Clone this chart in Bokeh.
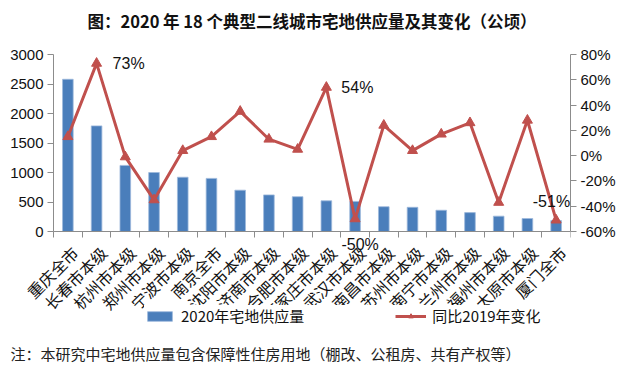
import math
from bokeh.plotting import figure
from bokeh.models import (Range1d, LinearAxis, FixedTicker, PrintfTickFormatter,
                          Label, Legend, LegendItem, ColumnDataSource)
from bokeh.core.properties import value
from bokeh.embed import file_html
from bokeh.resources import INLINE

cities = ["重庆全市", "长春市本级", "杭州市本级", "郑州市本级", "宁波市本级", "南京全市",
          "沈阳市本级", "济南市本级", "合肥市本级", "石家庄市本级", "武汉市本级", "南昌市本级",
          "苏州市本级", "南宁市本级", "兰州市本级", "福州市本级", "太原市本级", "厦门全市"]
supply = [2580, 1790, 1120, 1000, 920, 900, 700, 620, 590, 520, 510, 420, 410, 360, 320, 260, 220, 185]
change = [15, 73, -1, -35, 4, 15, 35, 13, 5, 54, -50, 24, 4, 17, 26, -37, 28, -51]
left_ticks = [0, 500, 1000, 1500, 2000, 2500, 3000]
right_ticks = [-60, -40, -20, 0, 20, 40, 60, 80]
title_text = "图：2020 年 18 个典型二线城市宅地供应量及其变化（公顷）"
note_text = "注：本研究中宅地供应量包含保障性住房用地（棚改、公租房、共有产权等）"
annotated = {1: ("73%", 16, 0, "left"), 9: ("54%", 15, 0, "left"),
             10: ("-50%", 5, -26, "center"), 17: ("-51%", 14, 19, "right")}

# ---- layout constants (pixels) ----
FRAME_L = 9            # frame starts here (room for labels left of the y axis)
AX_L, AX_R = 53, 570   # pixel columns of the two value axes
FRAME_H = 362          # frame spans from the top of the figure
AXIS_TOP = 54          # pixel row of the top tick (3000 / 80%)
AXIS_BOT = 231         # pixel row of zero / -60%
LEG_PAD = 3
n = len(cities)
ppc = (AX_R - AX_L) / n
lo, hi = left_ticks[0], left_ticks[-1]
plo, phi = right_ticks[0], right_ticks[-1]
upp = (hi - lo) / (AXIS_BOT - AXIS_TOP)
pupp = (phi - plo) / (AXIS_BOT - AXIS_TOP)
x_range = Range1d(-(AX_L - FRAME_L) / ppc, n)
y_range = Range1d(lo - (FRAME_H - AXIS_BOT) * upp, hi + AXIS_TOP * upp)
pct_range = Range1d(plo - (FRAME_H - AXIS_BOT) * pupp, phi + AXIS_TOP * pupp)


def row(py):
    return lo + (AXIS_BOT - py) * upp


def col(px):
    return (px - AX_L) / ppc


xpos = [i + 0.5 for i in range(n)]
src = ColumnDataSource(dict(x=xpos, supply=supply, change=change, city=cities,
                            base=[lo] * n))
tick_src = ColumnDataSource(dict(x=[0] * len(left_ticks), y=left_ticks,
                                 t=[str(t) for t in left_ticks]))

BLUE = "#4A7EBB"
RED = "#C0504D"
AXC = "#8C8C8C"
TXT = "#111111"
NUMF = "Liberation Sans"
CJKF = "Noto Sans CJK SC"

p = figure(frame_width=AX_R - FRAME_L, frame_height=FRAME_H, output_backend="svg",
           toolbar_location=None, x_range=x_range, y_range=y_range,
           min_border_left=FRAME_L, min_border_right=54, min_border_top=0, min_border_bottom=8,
           x_axis_type=None, y_axis_type=None)
p.outline_line_color = None
p.xgrid.visible = False
p.ygrid.visible = False
p.extra_y_ranges = {"pct": pct_range}

# x axis (line and boundary ticks at zero)
xa = LinearAxis(ticker=FixedTicker(ticks=[], minor_ticks=list(range(n + 1))),
                fixed_location=lo, bounds=(0, n))
xa.minor_tick_out = 6
xa.minor_tick_in = 0
xa.minor_tick_line_color = AXC
xa.axis_line_color = AXC
xa.major_label_text_font_size = "0px"
xa.major_label_standoff = 0
p.add_layout(xa, "below")

# left axis (line and ticks; its labels are drawn just left of it)
ya = LinearAxis(ticker=FixedTicker(ticks=left_ticks, minor_ticks=[]), bounds=(lo, hi),
                fixed_location=0)
ya.major_label_overrides = {t: "" for t in left_ticks}
ya.major_label_text_font_size = "0px"
ya.axis_line_color = AXC
ya.major_tick_line_color = AXC
ya.major_tick_out = 6
ya.major_tick_in = 0
ya.major_label_standoff = 0
p.add_layout(ya, "left")
p.text(x="x", y="y", text="t", source=tick_src, x_offset=-10, text_align="right",
       text_baseline="middle", text_font=value(NUMF), text_font_size="15px", text_color=TXT)

# right axis
ra = LinearAxis(y_range_name="pct", ticker=FixedTicker(ticks=right_ticks, minor_ticks=[]),
                formatter=PrintfTickFormatter(format="%d%%"), bounds=(plo, phi))
ra.axis_line_color = AXC
ra.major_tick_line_color = AXC
ra.major_tick_out = 6
ra.major_tick_in = 0
ra.major_label_standoff = 4
ra.major_label_text_font = NUMF
ra.major_label_text_font_size = "15px"
ra.major_label_text_color = TXT
p.add_layout(ra, "right")

# category labels under the x axis
p.text(x="x", y="base", text="city", source=src, angle=math.pi / 4,
       text_align="right", text_baseline="middle", x_offset=7, y_offset=18,
       text_font=value(CJKF), text_font_size="16px", text_color=TXT)

bars = p.vbar(x="x", top="supply", bottom="base", width=0.37, source=src, fill_color=BLUE,
              line_color="#9DB9DC", line_width=0.8)
ln = p.line(x="x", y="change", source=src, y_range_name="pct", line_color=RED, line_width=3)
mk = p.scatter(x="x", y="change", source=src, y_range_name="pct", marker="triangle",
               size=10, fill_color=RED, line_color=RED)

for i, (txt, dx, dy, al) in annotated.items():
    p.add_layout(Label(x=xpos[i], y=change[i], y_range_name="pct", text=txt,
                       x_offset=dx, y_offset=dy, text_align=al, text_baseline="middle",
                       text_font=NUMF, text_font_size="16px", text_color=TXT))

legend = Legend(items=[LegendItem(label="2020年宅地供应量", renderers=[bars]),
                       LegendItem(label="同比2019年变化", renderers=[ln, mk])],
                location=(147 - FRAME_L - LEG_PAD, FRAME_H - 323 - LEG_PAD),
                orientation="horizontal", spacing=91,
                glyph_width=31, glyph_height=12, label_standoff=6, padding=LEG_PAD, margin=0,
                border_line_color=None, background_fill_color="white", background_fill_alpha=1,
                label_text_font=CJKF, label_text_font_size="15px", label_text_color=TXT)
p.add_layout(legend, "center")

# title and note
p.add_layout(Label(x=col(311.5), y=row(20), text=title_text,
                   text_align="center", text_baseline="middle", text_font=CJKF,
                   text_font_size="16.5px", text_font_style="bold", text_color=TXT))
p.add_layout(Label(x=col(10), y=row(353), text=note_text,
                   text_align="left", text_baseline="middle", text_font=CJKF,
                   text_font_size="15px", text_color="#222222"))

open("out.html", "w").write(file_html(p, INLINE))
